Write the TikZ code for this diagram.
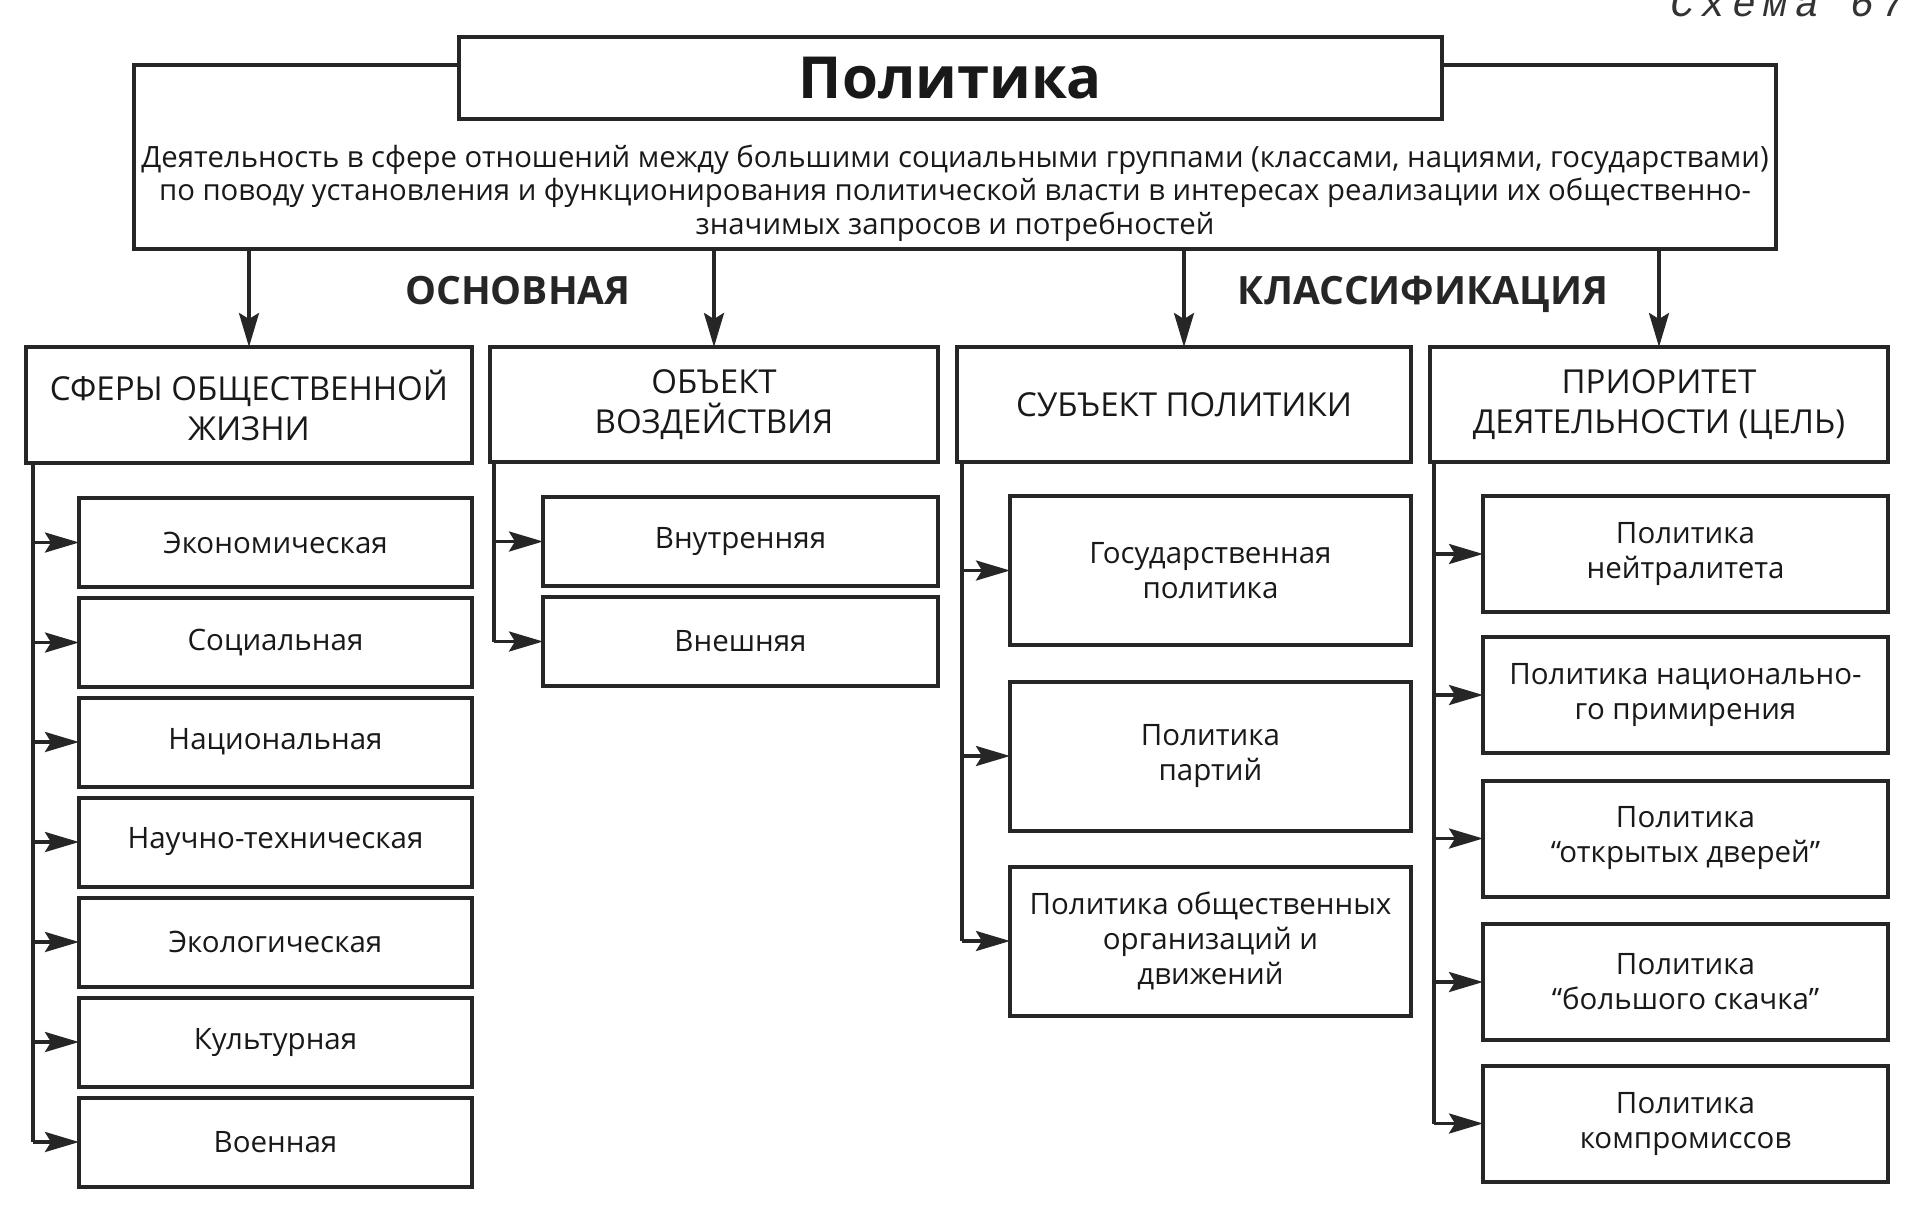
\documentclass[tikz,border=0pt]{standalone}
\usepackage{fontspec}
\setmainfont{Open Sans}
\newfontfamily\schfont[LetterSpace=18]{Liberation Mono}
\usetikzlibrary{arrows.meta}
\begin{document}
\begin{tikzpicture}[x=1pt,y=-1pt,
 box/.style={draw=black!85, line width=4pt, fill=white, inner sep=0pt, outer sep=0pt, align=center, text=black!90},
 cat/.style={box, font=\fontsize{33}{40}\selectfont},
 item/.style={box, font=\fontsize{29.5}{35}\selectfont},
 arr/.style={line width=3.5pt, draw=black!85, -{Stealth[length=34pt,width=20pt,inset=6pt]}},
 ln/.style={line width=3.5pt, draw=black!85},
 lbl/.style={font=\fontsize{39}{42}\selectfont\bfseries, text=black!85, anchor=base}]
\useasboundingbox (0,0) rectangle (1911,1213);
\node[font=\schfont\itshape\fontsize{40}{40}\selectfont, text=black!80, anchor=base east] (sch) at (1909,16) {Схема 67};
% definition box and title
\node[box, minimum width=1642pt, minimum height=184pt] (def) at (955,157) {};
\node[font=\fontsize{29.3}{33.5}\selectfont, align=center, text=black!90] (deftext) at (955,193) {Деятельность в сфере отношений между большими социальными группами (классами, нациями, государствами)\\по поводу установления и функционирования политической власти в интересах реализации их общественно-\\значимых запросов и потребностей};
\node[box, minimum width=983pt, minimum height=82pt, font=\fontsize{58}{60}\selectfont\bfseries] (title) at (950.5,78) {Политика};
% labels
\node[lbl] (osn) at (518,304) {ОСНОВНАЯ};
\node[lbl] (kls) at (1423,304) {КЛАССИФИКАЦИЯ};
% categories
\node[cat, minimum width=446pt, minimum height=116pt] (cat1) at (249,405) {СФЕРЫ ОБЩЕСТВЕННОЙ\\ЖИЗНИ};
\node[cat, minimum width=448pt, minimum height=115pt] (cat2) at (714,404.5) {ОБЪЕКТ\\ВОЗДЕЙСТВИЯ};
\node[cat, minimum width=454pt, minimum height=115pt] (cat3) at (1184,404.5) {СУБЪЕКТ ПОЛИТИКИ};
\node[cat, minimum width=458pt, minimum height=115pt] (cat4) at (1659,404.5) {ПРИОРИТЕТ\\ДЕЯТЕЛЬНОСТИ (ЦЕЛЬ)};
\foreach \c in {cat1,cat2,cat3,cat4}
  \draw[arr] (\c.north |- def.south) -- (\c.north);
% column 1
\begin{scope}[every node/.style={item, minimum width=393pt, minimum height=89pt}]
\node (a1) at (275.5,542.5) {Экономическая};
\node (a2) at (275.5,642.5) {Социальная};
\node (a3) at (275.5,742) {Национальная};
\node (a4) at (275.5,842) {Научно-техническая};
\node (a5) at (275.5,942) {Экологическая};
\node (a6) at (275.5,1042) {Культурная};
\node (a7) at (275.5,1142) {Военная};
\end{scope}
\coordinate (t1) at (33,463);
\draw[ln] (t1) -- (t1 |- a7);
\foreach \n in {a1,a2,a3,a4,a5,a6,a7}
  \draw[arr] (t1 |- \n) -- (\n.west);
% column 2
\begin{scope}[every node/.style={item, minimum width=395pt, minimum height=89pt}]
\node (b1) at (740.5,541.5) {Внутренняя};
\node (b2) at (740.5,641.5) {Внешняя};
\end{scope}
\coordinate (t2) at (494,462);
\draw[ln] (t2) -- (t2 |- b2);
\foreach \n in {b1,b2}
  \draw[arr] (t2 |- \n) -- (\n.west);
% column 3
\begin{scope}[every node/.style={item, minimum width=401pt, minimum height=149pt}]
\node (c1) at (1210.5,570.5) {Государственная\\политика};
\node (c2) at (1210.5,756) {Политика\\партий};
\node (c3) at (1210.5,941) {Политика общественных\\организаций и\\движений};
\end{scope}
\coordinate (t3) at (962,462);
\draw[ln] (t3) -- (t3 |- c3);
\foreach \n in {c1,c2,c3}
  \draw[arr] (t3 |- \n) -- (\n.west);
% column 4
\begin{scope}[every node/.style={item, minimum width=405pt, minimum height=116pt}]
\node (d1) at (1685.5,554) {Политика\\нейтралитета};
\node (d2) at (1685.5,695) {Политика национально-\\го примирения};
\node (d3) at (1685.5,838.5) {Политика\\“открытых дверей”};
\node (d4) at (1685.5,982) {Политика\\“большого скачка”};
\node (d5) at (1685.5,1123.5) {Политика\\компромиссов};
\end{scope}
\coordinate (t4) at (1434,462);
\draw[ln] (t4) -- (t4 |- d5);
\foreach \n in {d1,d2,d3,d4,d5}
  \draw[arr] (t4 |- \n) -- (\n.west);
\end{tikzpicture}
\end{document}
